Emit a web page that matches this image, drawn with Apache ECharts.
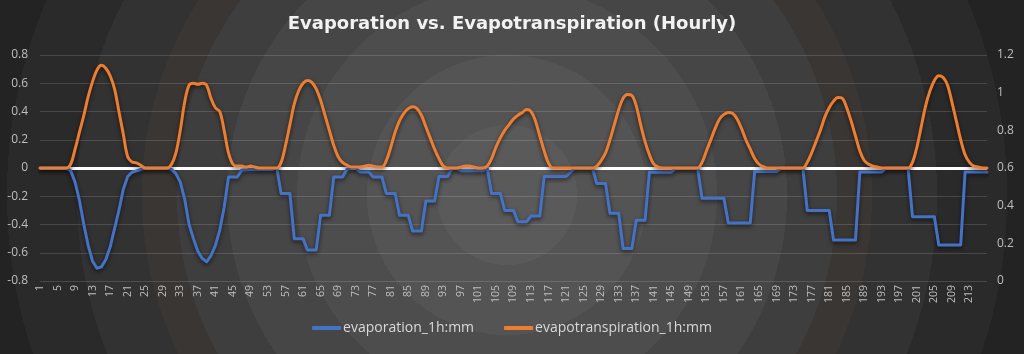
<!DOCTYPE html>
<html>
<head>
<meta charset="utf-8">
<script src="https://cdn.jsdelivr.net/npm/echarts@6/dist/echarts.min.js"></script>
<style>
  html, body { margin: 0; padding: 0; }
  body {
    width: 1024px; height: 354px; overflow: hidden;
    background: radial-gradient(circle at 507px 195px,
      #5a5a5a 0px, #5a5a5a 70px,
      #545454 70px, #545454 140px,
      #4d4d4d 140px, #4d4d4d 210px,
      #464646 210px, #464646 280px,
      #3e3e3e 280px, #3e3e3e 330px,
      #3a3633 330px, #3a3633 365px,
      #323232 365px, #323232 430px,
      #2a2a2a 430px, #2a2a2a 500px,
      #232323 500px);
  }
  #chart { width: 1024px; height: 354px; }
</style>
</head>
<body>
<div id="chart"></div>
<script>
// hour index 1..217
var hours = []
for (var h = 1; h <= 217; h++) hours.push(String(h))

// evaporation_1h:mm (left axis, drawn negative)
var evaporation = [
  0, 0, 0, 0, 0, 0, 0, -0.02, -0.10, -0.23, -0.40, -0.55, -0.66, -0.71, -0.70, -0.65, -0.56, -0.43, -0.30, -0.15, -0.06, -0.03, -0.02, -0.01,
  0, 0, 0, 0, 0, 0, -0.01, -0.04, -0.10, -0.22, -0.40, -0.50, -0.59, -0.64, -0.665, -0.62, -0.55, -0.44, -0.28, -0.064, -0.064, -0.064, -0.015, -0.012,
  -0.01, -0.01, -0.01, -0.01, -0.01, -0.01, 0, -0.18, -0.18, -0.18, -0.50, -0.50, -0.50, -0.58, -0.58, -0.58, -0.335, -0.335, -0.335, -0.064, -0.064, -0.064, -0.01, 0,
  0, -0.028, -0.028, -0.028, -0.064, -0.064, -0.064, -0.18, -0.18, -0.18, -0.335, -0.335, -0.335, -0.446, -0.446, -0.446, -0.234, -0.234, -0.234, -0.06, -0.06, -0.06, 0, 0,
  -0.02, -0.02, -0.02, -0.02, -0.02, -0.02, 0, -0.18, -0.18, -0.18, -0.30, -0.30, -0.30, -0.38, -0.38, -0.38, -0.34, -0.34, -0.34, -0.06, -0.06, -0.06, -0.06, -0.06,
  -0.06, -0.03, 0, 0, 0, 0, 0, -0.11, -0.11, -0.11, -0.32, -0.32, -0.32, -0.57, -0.57, -0.57, -0.37, -0.37, -0.37, -0.03, -0.03, -0.03, -0.03, -0.03,
  -0.03, 0, 0, 0, 0, 0, 0, -0.215, -0.215, -0.215, -0.215, -0.215, -0.215, -0.39, -0.39, -0.39, -0.39, -0.39, -0.39, -0.025, -0.025, -0.025, -0.025, -0.025,
  -0.025, 0, 0, 0, 0, 0, 0, -0.30, -0.30, -0.30, -0.30, -0.30, -0.30, -0.51, -0.51, -0.51, -0.51, -0.51, -0.51, -0.028, -0.028, -0.028, -0.028, -0.028,
  -0.028, 0, 0, 0, 0, 0, 0, -0.345, -0.345, -0.345, -0.345, -0.345, -0.345, -0.545, -0.545, -0.545, -0.545, -0.545, -0.545, -0.028, -0.028, -0.028, -0.028, -0.028,
  -0.028
]

// evapotranspiration_1h:mm (right axis)
var evapotranspiration = [
  0.6, 0.6, 0.6, 0.6, 0.6, 0.6, 0.6, 0.62, 0.70, 0.79, 0.88, 0.98, 1.06, 1.12, 1.145, 1.13, 1.09, 1.02, 0.90, 0.78, 0.66, 0.632, 0.627, 0.614,
  0.6, 0.6, 0.6, 0.6, 0.6, 0.6, 0.62, 0.68, 0.80, 0.95, 1.04, 1.05, 1.045, 1.05, 1.04, 0.97, 0.92, 0.90, 0.80, 0.68, 0.62, 0.61, 0.61, 0.605,
  0.61, 0.605, 0.6, 0.6, 0.6, 0.6, 0.6, 0.63, 0.72, 0.83, 0.94, 1.01, 1.05, 1.065, 1.055, 1.02, 0.96, 0.88, 0.80, 0.72, 0.66, 0.63, 0.615, 0.605,
  0.605, 0.605, 0.61, 0.615, 0.61, 0.605, 0.605, 0.64, 0.71, 0.79, 0.85, 0.89, 0.915, 0.925, 0.915, 0.88, 0.82, 0.76, 0.70, 0.65, 0.61, 0.6, 0.6, 0.6,
  0.605, 0.61, 0.61, 0.605, 0.6, 0.6, 0.61, 0.65, 0.71, 0.76, 0.80, 0.83, 0.86, 0.88, 0.895, 0.91, 0.90, 0.85, 0.77, 0.69, 0.625, 0.6, 0.6, 0.6,
  0.6, 0.6, 0.6, 0.6, 0.6, 0.6, 0.6, 0.61, 0.64, 0.68, 0.75, 0.83, 0.91, 0.97, 0.99, 0.985, 0.93, 0.83, 0.74, 0.67, 0.62, 0.605, 0.6, 0.6,
  0.6, 0.6, 0.6, 0.6, 0.6, 0.6, 0.6, 0.63, 0.69, 0.75, 0.81, 0.86, 0.885, 0.895, 0.89, 0.86, 0.81, 0.75, 0.70, 0.65, 0.62, 0.607, 0.6, 0.6,
  0.6, 0.6, 0.6, 0.6, 0.6, 0.6, 0.6, 0.63, 0.68, 0.74, 0.80, 0.87, 0.92, 0.955, 0.975, 0.97, 0.92, 0.85, 0.77, 0.69, 0.64, 0.62, 0.61, 0.605,
  0.6, 0.6, 0.6, 0.6, 0.6, 0.6, 0.6, 0.63, 0.71, 0.82, 0.93, 1.01, 1.065, 1.09, 1.08, 1.04, 0.95, 0.85, 0.75, 0.67, 0.63, 0.61, 0.605, 0.6,
  0.6
]

var chart = echarts.init(document.getElementById('chart'))
var labelColor = '#bfbfbf'
var gridColor = 'rgba(255,255,255,0.14)'

chart.setOption({
  backgroundColor: 'transparent',
  animation: false,
  title: {
    text: 'Evaporation vs. Evapotranspiration (Hourly)',
    left: 'center',
    top: 10,
    textStyle: { color: '#f2f2f2', fontSize: 18, fontWeight: 'bold', fontFamily: 'DejaVu Sans' }
  },
  legend: {
    bottom: 14,
    left: 'center',
    itemWidth: 29,
    itemHeight: 4,
    itemGap: 30,
    icon: 'rect',
    textStyle: { color: '#d9d9d9', fontSize: 14, fontFamily: 'Open Sans', padding: [0, 0, 0, -3] },
    data: ['evaporation_1h:mm', 'evapotranspiration_1h:mm']
  },
  grid: { left: 40, right: 37, top: 55, bottom: 73, containLabel: false },
  xAxis: {
    type: 'category',
    data: hours,
    boundaryGap: false,
    axisLine: { show: false },
    axisTick: { show: false },
    axisLabel: {
      rotate: 90,
      color: labelColor,
      fontSize: 10.5,
      fontFamily: 'Open Sans',
      margin: 4,
      interval: function (idx) { return idx % 4 === 0 && idx <= 212 }
    },
    splitLine: { show: false }
  },
  yAxis: [
    {
      type: 'value',
      min: -0.8, max: 0.8, interval: 0.2,
      axisLine: { show: false },
      axisTick: { show: false },
      axisLabel: { color: labelColor, fontSize: 12, fontFamily: 'Open Sans', margin: 12 },
      splitLine: { lineStyle: { color: gridColor, width: 1 } }
    },
    {
      type: 'value',
      min: 0, max: 1.2, interval: 0.2,
      axisLine: { show: false },
      axisTick: { show: false },
      axisLabel: { color: labelColor, fontSize: 12, fontFamily: 'Open Sans', margin: 10 },
      splitLine: { show: false }
    }
  ],
  series: [
    {
      name: 'evaporation_1h:mm',
      type: 'line',
      yAxisIndex: 0,
      data: evaporation,
      symbol: 'none',
      smooth: false,
      z: 3,
      itemStyle: { color: '#4472c4' },
      lineStyle: {
        color: '#4472c4', width: 3, join: 'round', cap: 'round',
        shadowColor: 'rgba(0,0,0,0.6)', shadowBlur: 4, shadowOffsetY: 2
      },
      markLine: {
        silent: true,
        symbol: 'none',
        z: 1,
        label: { show: false },
        lineStyle: { color: '#ffffff', width: 3, type: 'solid' },
        data: [{ yAxis: 0 }]
      }
    },
    {
      name: 'evapotranspiration_1h:mm',
      type: 'line',
      yAxisIndex: 1,
      data: evapotranspiration,
      symbol: 'none',
      smooth: 0.35,
      z: 4,
      itemStyle: { color: '#ed7d31' },
      lineStyle: {
        color: '#ed7d31', width: 3, join: 'round', cap: 'round',
        shadowColor: 'rgba(0,0,0,0.6)', shadowBlur: 4, shadowOffsetY: 2
      }
    }
  ]
})
</script>
</body>
</html>
